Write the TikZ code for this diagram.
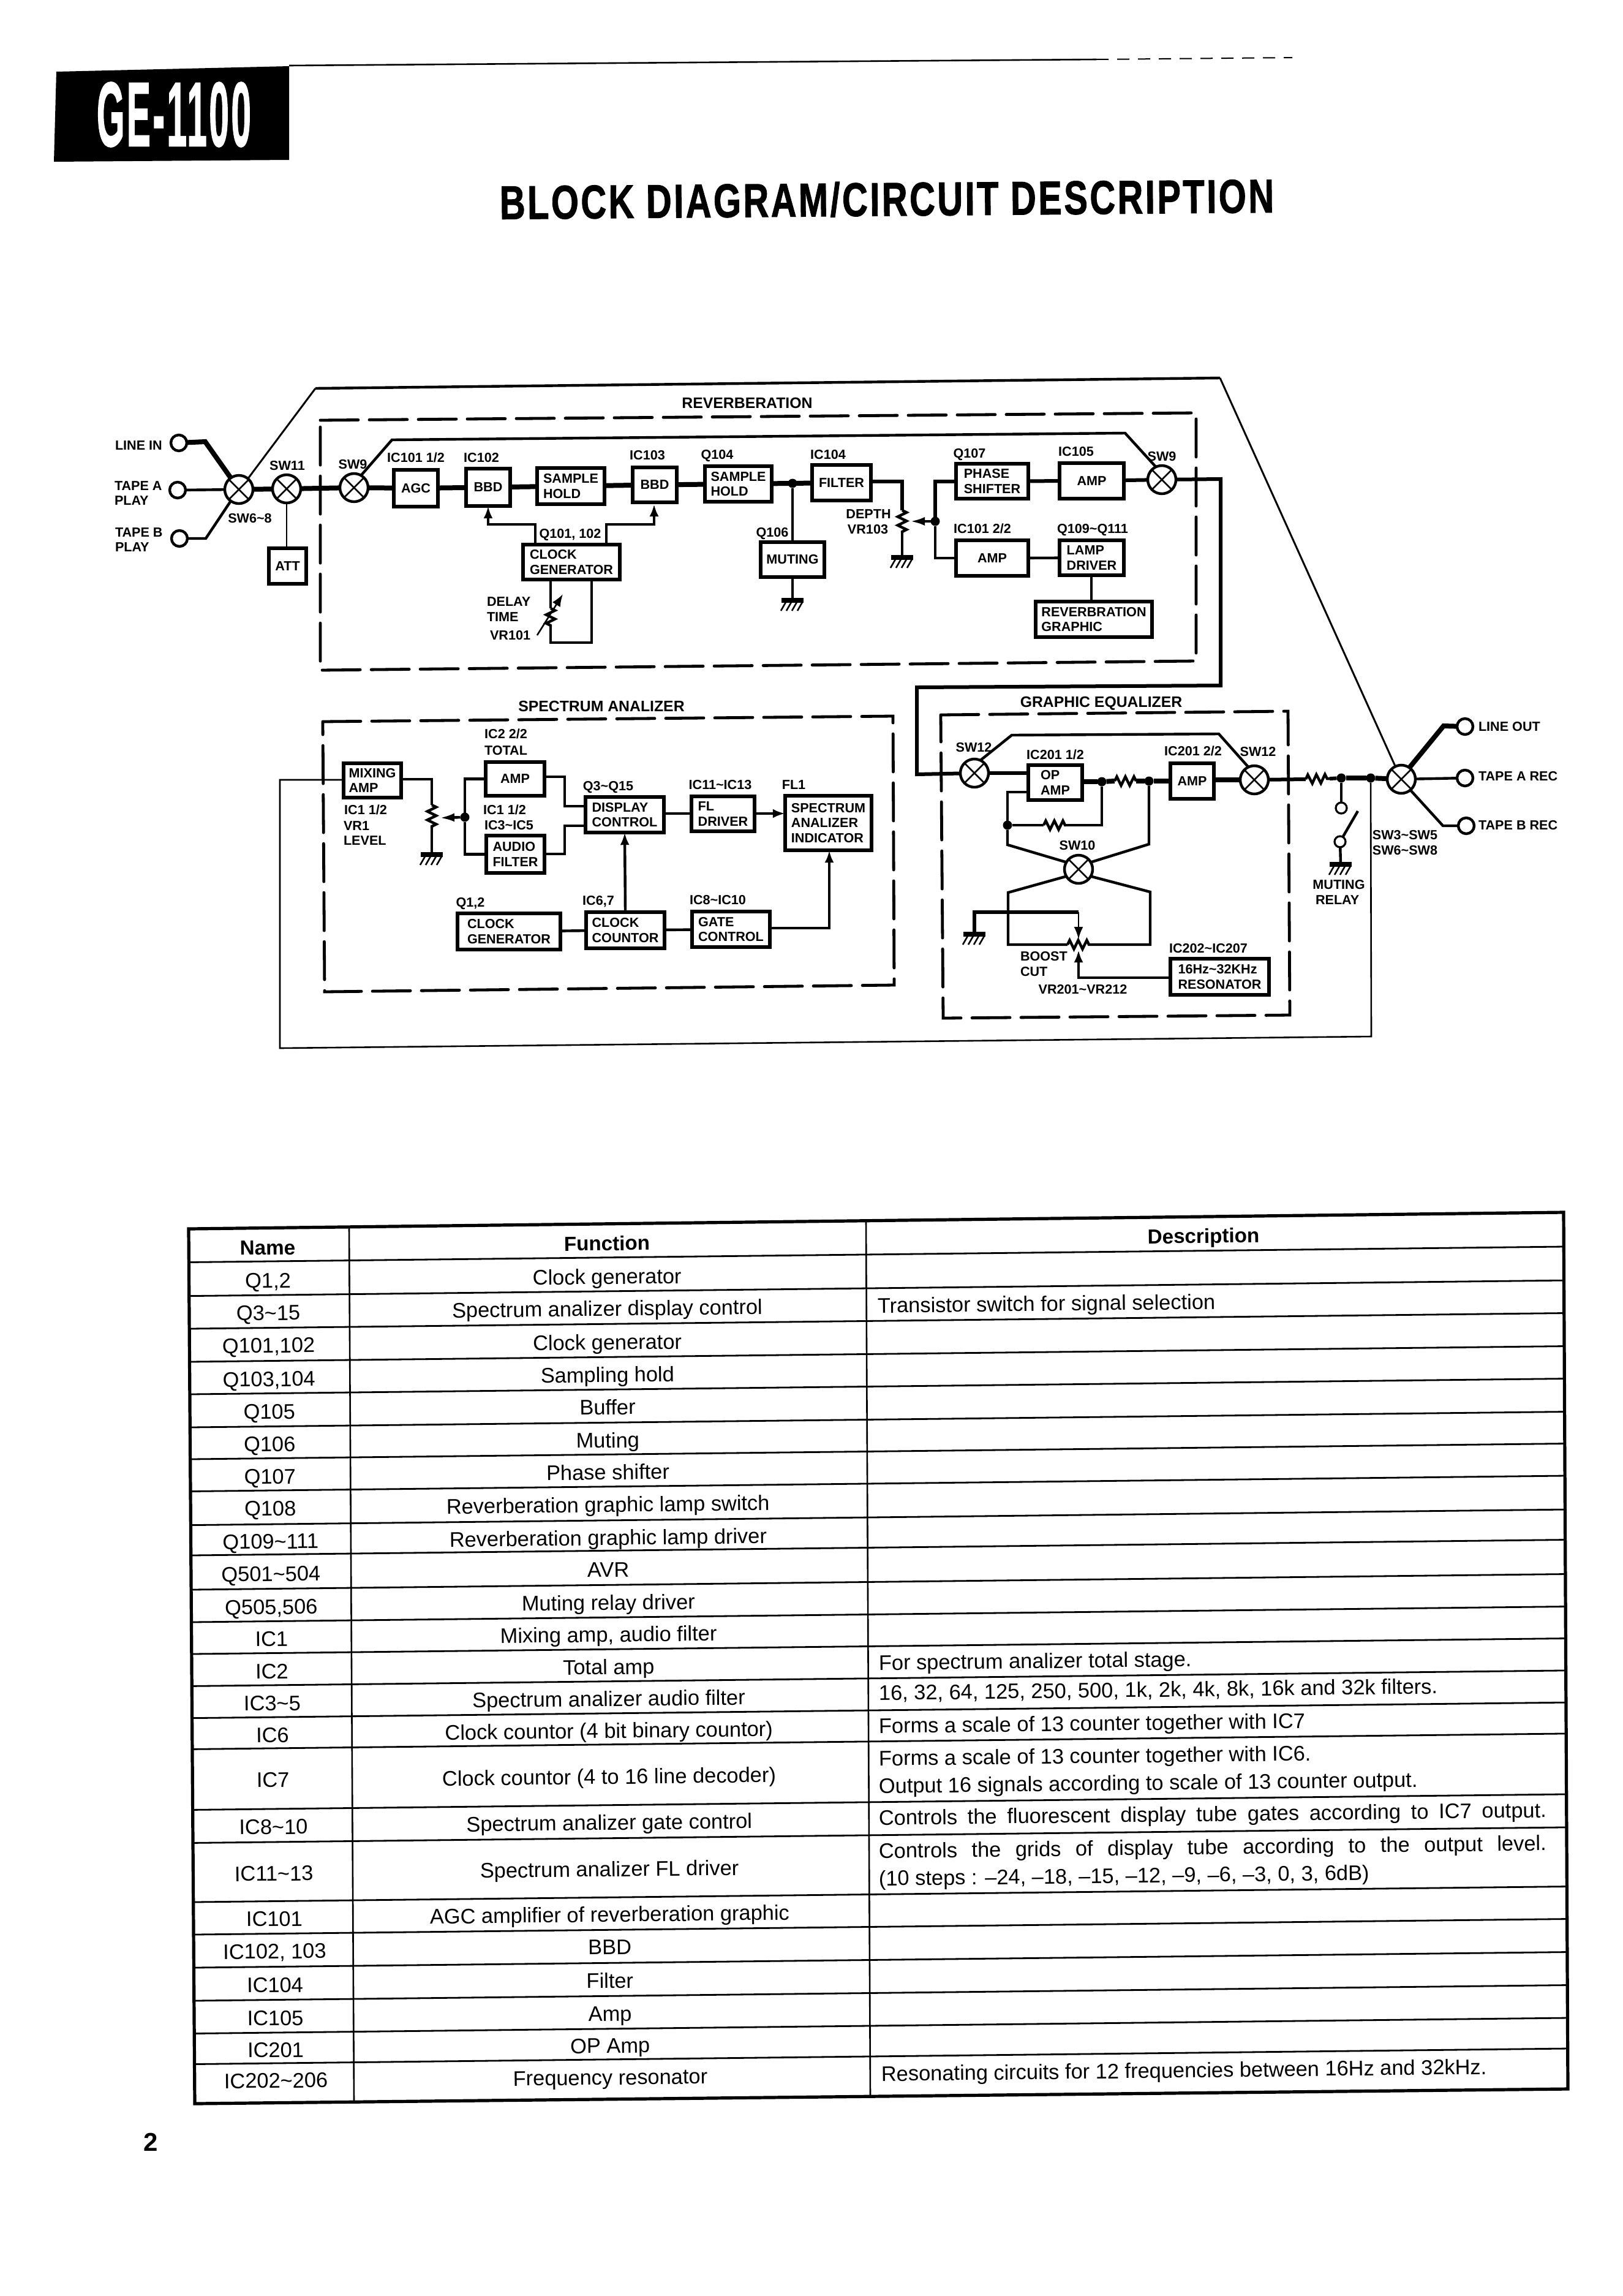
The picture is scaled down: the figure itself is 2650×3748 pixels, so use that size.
\documentclass[tikz,border=0pt]{standalone}
\usepackage{fontspec}
\setmainfont{Liberation Sans}
\newfontfamily\bannerfont[FakeBold=1.5,LetterSpace=6]{Liberation Sans Bold}
\usetikzlibrary{arrows.meta,decorations.pathmorphing}
\tikzset{
  wthin/.style={line width=1.3pt},
  wmed/.style={line width=2.2pt},
  wstrong/.style={line width=3pt},
  wthick/.style={line width=4pt},
  dashbox/.style={line width=2.4pt,dash pattern=on 31pt off 9pt,line cap=round},
  blockbox/.style={draw,line width=2.8pt,inner sep=0pt,outer sep=0pt,align=left,font=\labelfont},
  lbl/.style={inner sep=0pt,outer sep=0pt,font=\labelfont,text height=7.8pt,text depth=0pt},
  heavy/.style={inner sep=0pt,outer sep=0pt,font=\headfont,text height=8.9pt,text depth=0pt},
  swnode/.style={draw,circle,line width=2.2pt,minimum size=23pt,inner sep=0pt,outer sep=0pt},
  termnode/.style={draw,circle,line width=2.2pt,minimum size=13pt,inner sep=0pt,outer sep=0pt},
  contact/.style={draw,circle,line width=1.6pt,minimum size=9pt,inner sep=0pt,outer sep=0pt},
  dotnode/.style={fill,circle,minimum size=7.5pt,inner sep=0pt,outer sep=0pt},
  zigv/.style={decorate,decoration={zigzag,segment length=7pt,amplitude=3.6pt}},
  tip/.style={-{Latex[length=10pt,width=7.5pt]}},
  wiper/.style={-{Latex[length=12pt,width=7pt]}},
  cell/.style={inner sep=0pt,outer sep=0pt,font=\cellfont,text height=12.3pt,text depth=0pt,rotate=0.66},
  cellhead/.style={cell,font=\cellheadfont},
  gndmark/.pic={
    \draw[wthick] (-18,0) -- (18,0);
    \foreach \d in {-11,-2,7,16} \draw[wthin] (\d,3) -- (\d-8,17);
  }
}
\newcommand\labelfont{\fontsize{10.8}{12.2}\selectfont\bfseries}
\newcommand\headfont{\fontsize{12.4}{14}\selectfont\bfseries}
\newcommand\cellfont{\fontsize{17.2}{20}\selectfont}
\newcommand\cellheadfont{\fontsize{16.6}{20}\selectfont\bfseries}
\newcommand\tld{\textasciitilde}
% block: name, left, top, right, bottom, text (outer extents in page pixels)
\newcommand\blk[6]{\node[blockbox,minimum width={(#4-#2-5.6)*0.5pt},minimum height={(#5-#3-5.6)*0.5pt}] (#1) at ({(#2+#4)/2},{(#3+#5)/2}) {#6};}
% switch: circle with a cross through it
\newcommand\swx[3]{\node[swnode] (#1) at (#2,#3) {};\draw[wthin] (#1.45) -- (#1.225) (#1.135) -- (#1.315);}
\begin{document}
\begin{tikzpicture}[x=0.5pt,y=-0.5pt]
\useasboundingbox (0,0) rectangle (2650,3748);
\fill[white] (0,0) rectangle (2650,3748);

% page heading
\fill[black] (92,117) -- (472,108) -- (472,261) -- (88,264) -- cycle;
\node[inner sep=0pt,text=white] (model) at (284,187) {\resizebox{126pt}{52pt}{\bannerfont GE-1100}};
\draw[wthin] (472,107) -- (1790,97);
\draw[line width=1pt,dash pattern=on 10pt off 7pt] (1790,97) -- (2110,94);
\node[inner sep=0pt,rotate=0.5] (title) at (1448,325) {\resizebox{632pt}{28pt}{\bannerfont BLOCK DIAGRAM/CIRCUIT DESCRIPTION}};

% section frames
\draw[dashbox] (523,686) -- (1953,674) -- (1953,1079) -- (523,1094) -- cycle;
\draw[dashbox] (527,1178) -- (1458,1169) -- (1460,1608) -- (530,1619) -- cycle;
\draw[dashbox] (1536,1167) -- (2103,1161) -- (2106,1657) -- (1540,1662) -- cycle;
\node[heavy] (trev) at (1220,658) {REVERBERATION};
\node[heavy] (tspec) at (982,1153) {SPECTRUM ANALIZER};
\node[heavy] (teq) at (1798,1146) {GRAPHIC EQUALIZER};

% inputs
\node[termnode] (inl) at (292,723) {};
\node[termnode] (ina) at (290,800) {};
\node[termnode] (inb) at (293,879) {};
\node[lbl,anchor=west] (linl) at (188,727) {LINE IN};
\node[lbl,anchor=west] (lina) at (187,793) {TAPE A};
\node[lbl,anchor=west] (linap) at (187,817) {PLAY};
\node[lbl,anchor=west] (linb) at (188,869) {TAPE B};
\node[lbl,anchor=west] (linbp) at (188,893) {PLAY};
\swx{swin}{390}{799}
\swx{swatt}{468}{798}
\swx{swra}{578}{796}
\node[lbl] (lswin) at (408,846) {SW6\tld8};
\node[lbl] (lswatt) at (469,760) {SW11};
\node[lbl] (lswra) at (576,758) {SW9};
\draw[wthick] (inl) -- (335,721) -- (swin.125);
\draw[wmed] (ina) -- (swin);
\draw[wmed] (inb) -- (336,879) -- (swin.235);
\draw[wthick] (swin) -- (swatt);
\draw[wthick] (swatt) -- (swra);
\blk{att}{436}{892}{503}{956}{ATT}
\draw[wthin] (swatt) -- (att.north -| swatt);

% signal bypass above everything
\coordinate (bp1) at (515,634);
\coordinate (bp2) at (1992,617);

% reverberation chain
\blk{agc}{640}{764}{718}{830}{AGC}
\blk{bbda}{758}{762}{836}{829}{BBD}
\blk{sha}{874}{761}{990}{826}{SAMPLE\\HOLD}
\blk{bbdb}{1030}{760}{1108}{823}{BBD}
\blk{shb}{1148}{758}{1263}{822}{SAMPLE\\HOLD}
\blk{filt}{1323}{756}{1425}{820}{FILTER}
\node[lbl] (lagc) at (679,747) {IC101 1/2};
\node[lbl] (lbbda) at (786,747) {IC102};
\node[lbl] (lbbdb) at (1057,743) {IC103};
\node[lbl] (lshb) at (1171,742) {Q104};
\node[lbl] (lfilt) at (1352,742) {IC104};
\draw[wthick] (swra) -- (agc);
\draw[wthick] (agc) -- (bbda);
\draw[wthick] (bbda) -- (sha);
\draw[wthick] (sha) -- (bbdb);
\draw[wthick] (bbdb) -- (shb);
\draw[wthick] (shb) -- (filt);
\node[dotnode] (nmute) at (1294,789) {};

\blk{clk}{851}{886}{1015}{949}{CLOCK\\GENERATOR}
\node[lbl] (lclk) at (931,871) {Q101, 102};
\coordinate (ca) at (874,856);
\coordinate (cb) at (990,856);
\draw[wmed,tip] (clk.north -| ca) -- (ca) -| (bbda.south);
\draw[wmed,tip] (clk.north -| cb) -- (cb) -| (1068,823);
\coordinate (da) at (899,993);
\coordinate (db) at (899,1024);
\coordinate (dc) at (899,1049);
\coordinate (dd) at (966,1049);
\draw[wmed] (clk.south -| da) -- (da);
\draw[wmed,zigv] (da) -- (db);
\draw[wmed] (db) -- (dc) -- (dd) -- (clk.south -| dd);
\coordinate (ar1) at (877,1037);
\coordinate (ar2) at (919,970);
\draw[wthin,tip] (ar1) -- (ar2);
\node[lbl,anchor=west] (ldel) at (795,982) {DELAY};
\node[lbl,anchor=west] (ltim) at (795,1007) {TIME};
\node[lbl,anchor=west] (lvra) at (800,1037) {VR101};

\blk{mute}{1239}{882}{1349}{945}{MUTING}
\node[lbl] (lmute) at (1261,869) {Q106};
\draw[wmed] (nmute) -- (mute.north -| nmute);
\coordinate (gmute) at (1294,980);
\draw[wmed] (mute.south -| gmute) -- (gmute);
\pic at (gmute) {gndmark};

\coordinate (fa) at (1473,786);
\coordinate (fb) at (1473,833);
\coordinate (fc) at (1473,870);
\coordinate (gdep) at (1473,910);
\draw[wstrong] (filt.east |- fa) -- (fa) -- (fb);
\draw[wmed,zigv] (fb) -- (fc);
\draw[wmed] (fc) -- (gdep);
\pic at (gdep) {gndmark};
\node[dotnode] (ndep) at (1527,851) {};
\coordinate (wdep) at (1486,851);
\draw[wmed,wiper] (ndep) -- (wdep);
\node[lbl] (ldep) at (1418,839) {DEPTH};
\node[lbl] (lvrd) at (1417,864) {VR103};

\blk{phase}{1558}{754}{1682}{817}{PHASE\\SHIFTER}
\blk{ampr}{1727}{753}{1838}{817}{AMP}
\blk{ampl}{1558}{879}{1682}{943}{AMP}
\blk{lamp}{1727}{879}{1838}{942}{LAMP\\DRIVER}
\blk{graph}{1688}{979}{1884}{1043}{REVERBRATION\\GRAPHIC}
\node[lbl] (lphase) at (1583,740) {Q107};
\node[lbl] (lampr) at (1757,737) {IC105};
\node[lbl] (lampl) at (1604,863) {IC101 2/2};
\node[lbl] (llamp) at (1784,863) {Q109\tld Q111};
\swx{swrb}{1897}{783}
\node[lbl] (lswrb) at (1897,745) {SW9};
\draw[wstrong] (ndep) |- (phase.west);
\draw[wmed] (ndep) |- (ampl.west);
\draw[wstrong] (phase) -- (ampr);
\draw[wstrong] (ampr) -- (swrb);
\draw[wmed] (ampl) -- (lamp);
\draw[wmed] (lamp.south -| 1782,0) -- (graph.north -| 1782,0);
\coordinate (lpa) at (640,718);
\coordinate (lpb) at (1837,707);
\draw[wmed] (swra.60) -- (lpa) -- (lpb) -- (swrb.115);

% spectrum analyzer
\blk{mix}{558}{1243}{658}{1305}{MIXING\\AMP}
\blk{amps}{790}{1241}{892}{1302}{AMP}
\blk{audio}{791}{1361}{892}{1428}{AUDIO\\FILTER}
\blk{disp}{953}{1298}{1087}{1362}{DISPLAY\\CONTROL}
\blk{fld}{1126}{1297}{1235}{1360}{FL\\DRIVER}
\blk{ind}{1279}{1296}{1426}{1391}{SPECTRUM\\ANALIZER\\INDICATOR}
\blk{clks}{744}{1488}{918}{1553}{CLOCK\\GENERATOR}
\blk{cnt}{954}{1486}{1088}{1551}{CLOCK\\COUNTOR}
\blk{gate}{1127}{1485}{1260}{1549}{GATE\\CONTROL}
\node[lbl] (lmixa) at (597,1322) {IC1 1/2};
\node[lbl,anchor=west] (lmixb) at (561,1348) {VR1};
\node[lbl,anchor=west] (lmixc) at (561,1372) {LEVEL};
\node[lbl] (lampa) at (826,1198) {IC2 2/2};
\node[lbl] (lampb) at (826,1225) {TOTAL};
\node[lbl] (laud) at (824,1322) {IC1 1/2};
\node[lbl] (laudb) at (831,1347) {IC3\tld IC5};
\node[lbl] (ldisp) at (993,1283) {Q3\tld Q15};
\node[lbl] (lfld) at (1176,1281) {IC11\tld IC13};
\node[lbl] (lind) at (1296,1281) {FL1};
\node[lbl] (lclks) at (768,1473) {Q1,2};
\node[lbl] (lcnt) at (977,1470) {IC6,7};
\node[lbl] (lgate) at (1172,1469) {IC8\tld IC10};

\coordinate (ma) at (705,1272);
\coordinate (mb) at (705,1314);
\coordinate (mc) at (705,1353);
\coordinate (gmix) at (705,1395);
\draw[wmed] (mix.east |- ma) -- (ma) -- (mb);
\draw[wmed,zigv] (mb) -- (mc);
\draw[wmed] (mc) -- (gmix);
\pic at (gmix) {gndmark};
\node[dotnode] (nmix) at (759,1334) {};
\coordinate (wmix) at (718,1335);
\draw[wmed,wiper] (nmix) -- (wmix);
\draw[wmed] (nmix) |- (amps.west);
\draw[wmed] (nmix) |- (audio.west);
\coordinate (dja) at (922,1268);
\coordinate (djb) at (922,1316);
\coordinate (djc) at (922,1394);
\coordinate (djd) at (922,1348);
\draw[wmed] (amps.east |- dja) -- (dja) -- (djb) -- (disp.west |- djb);
\draw[wmed] (audio.east |- djc) -- (djc) -- (djd) -- (disp.west |- djd);
\draw[wmed] (disp.east |- 0,1328) -- (fld.west |- 0,1328);
\draw[wmed,tip] (fld.east |- 0,1328) -- (ind.west |- 0,1328);
\draw[wmed] (clks) -- (cnt);
\draw[wmed] (cnt) -- (gate);
\draw[wmed,tip] (cnt.north) -- (disp.south);
\coordinate (ge) at (1354,1515);
\draw[wmed,tip] (gate.east |- ge) -- (ge) -- (ind.south -| ge);

% graphic equalizer
\swx{sweqa}{1591}{1262}
\swx{sweqb}{2048}{1273}
\swx{sweqc}{1761}{1419}
\node[lbl] (lsweqa) at (1590,1220) {SW12};
\node[lbl] (lsweqb) at (2054,1227) {SW12};
\node[lbl] (lsweqc) at (1759,1380) {SW10};
\blk{opamp}{1676}{1246}{1770}{1309}{OP\\AMP}
\blk{ampe}{1908}{1243}{1985}{1307}{AMP}
\blk{reso}{1908}{1562}{2075}{1627}{16Hz\tld32KHz\\RESONATOR}
\node[lbl] (lop) at (1723,1232) {IC201 1/2};
\node[lbl] (lampe) at (1948,1226) {IC201 2/2};
\node[lbl] (lreso) at (1973,1548) {IC202\tld IC207};
\node[lbl,anchor=west] (lboo) at (1666,1561) {BOOST};
\node[lbl,anchor=west] (lcut) at (1666,1586) {CUT};
\node[lbl] (lvre) at (1768,1615) {VR201\tld VR212};
\coordinate (la) at (1652,1200);
\coordinate (lb) at (1990,1198);
\draw[wmed] (sweqa.65) -- (la) -- (lb) -- (sweqb.115);
\draw[wstrong] (sweqa) -- (opamp.west |- sweqa);
\node[dotnode] (nopa) at (1799,1276) {};
\node[dotnode] (nopb) at (1876,1275) {};
\node[dotnode] (nfb) at (1645,1347) {};
\draw[wthick] (opamp.east |- nopa) -- (nopa);
\coordinate (ra) at (1820,1275);
\coordinate (rb) at (1855,1275);
\draw[wthick] (nopa) -- (ra);
\draw[wmed,zigv] (ra) -- (rb);
\draw[wthick] (rb) -- (nopb);
\draw[wthick] (nopb) -- (ampe.west |- nopb);
\draw[wthick] (ampe.east |- sweqb) -- (sweqb);
\coordinate (rc) at (1704,1347);
\coordinate (rd) at (1740,1347);
\draw[wmed] (opamp.west |- 0,1293) -- (1645,1293) -- (nfb);
\draw[wmed] (nfb) -- (rc);
\draw[wmed,zigv] (rc) -- (rd);
\draw[wmed] (rd) -- (1799,1347) -- (nopa);
\coordinate (xa) at (1645,1379);
\coordinate (xb) at (1876,1378);
\coordinate (xc) at (1646,1457);
\coordinate (xd) at (1878,1456);
\coordinate (xe) at (1646,1542);
\coordinate (xf) at (1878,1542);
\coordinate (rp) at (1743,1542);
\coordinate (rq) at (1782,1542);
\draw[wmed] (nfb) -- (xa) -- (sweqc.150);
\draw[wmed] (nopb) -- (xb) -- (sweqc.30);
\draw[wmed] (sweqc.210) -- (xc) -- (xe) -- (rp);
\draw[wmed,zigv] (rp) -- (rq);
\draw[wmed] (rq) -- (xf) -- (xd) -- (sweqc.330);
\coordinate (gq) at (1591,1525);
\coordinate (gt) at (1761,1489);
\coordinate (gu) at (1761,1533);
\coordinate (gv) at (1761,1551);
\draw[wstrong] (gq) -- (1591,1489) -- (gt);
\draw[wthin,tip] (gt) -- (gu);
\pic at (gq) {gndmark};
\draw[wmed,tip] (reso.west |- 0,1596) -- (1761,1596) -- (gv);

% output section
\swx{swout}{2288}{1272}
\coordinate (pa) at (2132,1272);
\coordinate (pb) at (2171,1271);
\draw[wstrong] (sweqb) -- (pa);
\draw[wmed,zigv] (pa) -- (pb);
\node[dotnode] (nrel) at (2190,1270) {};
\node[dotnode] (nfbk) at (2238,1270) {};
\draw[wstrong] (pb) -- (nrel);
\draw[wthick] (nrel) -- (nfbk);
\draw[wthick] (nfbk) -- (swout);
\node[contact] (cta) at (2190,1319) {};
\node[contact] (ctb) at (2188,1374) {};
\draw[wmed] (nrel) -- (cta);
\coordinate (cte) at (2217,1324);
\draw[wmed] (ctb.60) -- (cte);
\coordinate (grel) at (2189,1411);
\draw[wmed] (ctb) -- (grel);
\pic at (grel) {gndmark};
\node[lbl] (lrela) at (2186,1444) {MUTING};
\node[lbl,anchor=west] (lrelb) at (2148,1469) {RELAY};
\node[lbl] (lswa) at (2294,1363) {SW3\tld SW5};
\node[lbl] (lswb) at (2294,1388) {SW6\tld SW8};
\node[termnode] (outl) at (2392,1186) {};
\node[termnode] (outa) at (2392,1270) {};
\node[termnode] (outb) at (2394,1348) {};
\node[lbl,anchor=west] (loutl) at (2414,1186) {LINE OUT};
\node[lbl,anchor=west] (louta) at (2414,1267) {TAPE A REC};
\node[lbl,anchor=west] (loutb) at (2414,1347) {TAPE B REC};
\draw[wthick] (swout.55) -- (2357,1185) -- (outl);
\draw[wmed] (swout) -- (outa);
\draw[wmed] (swout.310) -- (2356,1348) -- (outb);

% bypass and monitor feeds between sections
\draw[wmed] (bp1) -- (bp2);
\draw[line width=1.5pt] (swin.50) -- (bp1);
\draw[line width=1.5pt] (bp2) -- (swout.115);
\draw[wstrong] (swrb) -- (1993,782) -- (1993,1119) -- (1497,1122) -- (1497,1264) -- (sweqa);
\draw[wthin] (nfbk) -- (2239,1692) -- (457,1711) -- (457,1273) -- (mix.west |- 0,1273);

% parts table
\draw[line width=2.6pt] (308,2006) -- (2553,1979) -- (2560,3410) -- (318,3434) -- cycle;
\draw[wthin] (570,2003) -- (578,3431);
\draw[wthin] (1414,1993) -- (1421,3423);
\foreach \yl in {2060.5,2115.6,2169,2223,2276,2330,2382,2434.5,2489.6,2539,2595,2648,2700,2752.4,2804.6,2855.4,2954.4,3008.4,3105,3158,3212,3266,3319.5,3369.5}
  \draw[line width=1.4pt] ({308+(\yl-2006)*.0075},\yl) -- ({2553+(\yl-2006)*.005},{\yl-25.5});
\node[cellhead] (hname) at (437,2036) {Name};
\node[cellhead] (hfunc) at (991,2029) {Function};
\node[cellhead] (hdesc) at (1965,2017) {Description};
\foreach \yn/\nm/\yf/\fn [count=\r] in {
  2090/{Q1,2}/2084/Clock generator,
  2143/Q3\tld15/2136/Spectrum analizer display control,
  2196/{Q101,102}/2191/Clock generator,
  2251/{Q103,104}/2244/Sampling hold,
  2304/Q105/2297/Buffer,
  2357/Q106/2351/Muting,
  2410/Q107/2403/Phase shifter,
  2462/Q108/2456/Reverberation graphic lamp switch,
  2516/Q109\tld111/2510/Reverberation graphic lamp driver,
  2569/Q501\tld504/2562/AVR,
  2623/{Q505,506}/2616/Muting relay driver,
  2675/IC1/2668/{Mixing amp, audio filter},
  2728/IC2/2721/Total amp,
  2780/IC3\tld5/2773/Spectrum analizer audio filter,
  2832/IC6/2825/Clock countor (4 bit binary countor),
  2905/IC7/2900/Clock countor (4 to 16 line decoder),
  2982/IC8\tld10/2975/Spectrum analizer gate control,
  3058/IC11\tld13/3051/Spectrum analizer FL driver,
  3132/IC101/3125/AGC amplifier of reverberation graphic,
  3185/{IC102, 103}/3178/BBD,
  3240/IC104/3233/Filter,
  3294/IC105/3287/Amp,
  3346/IC201/3339/OP Amp,
  3396/IC202\tld206/3391/Frequency resonator}{
  \node[cell] (pn\r) at ({437+(\yn-2036)*.01},\yn) {\nm};
  \node[cell] (pf\r) at ({991+(\yf-2030)*.004},\yf) {\fn};
}
\node[cell,anchor=west] (dq) at (1433,2131) {Transistor switch for signal selection};
\node[cell,anchor=west] (dtot) at (1435,2714) {For spectrum analizer total stage.};
\node[cell,anchor=west] (dfil) at (1435,2763) {16, 32, 64, 125, 250, 500, 1k, 2k, 4k, 8k, 16k and 32k filters.};
\node[cell,anchor=west] (dsa) at (1435,2817) {Forms a scale of 13 counter together with IC7};
\node[cell,anchor=west] (dsb) at (1435,2870) {Forms a scale of 13 counter together with IC6.};
\node[cell,anchor=west] (dsc) at (1435,2915) {Output 16 signals according to scale of 13 counter output.};
\node[cell,anchor=west] (dgate) at (1435,2967) {\makebox[545pt][s]{Controls the fluorescent display tube gates according to IC7 output.}};
\node[cell,anchor=west] (dgrid) at (1435,3021) {\makebox[545pt][s]{Controls the grids of display tube according to the output level.}};
\node[cell,anchor=west] (dstep) at (1435,3066) {(10 steps : –24, –18, –15, –12, –9, –6, –3, 0, 3, 6dB)};
\node[cell,anchor=west] (dres) at (1439,3385) {Resonating circuits for 12 frequencies between 16Hz and 32kHz.};

\node[inner sep=0pt,font=\fontsize{21}{24}\selectfont\bfseries] (pageno) at (246,3497) {2};
\end{tikzpicture}
\end{document}
